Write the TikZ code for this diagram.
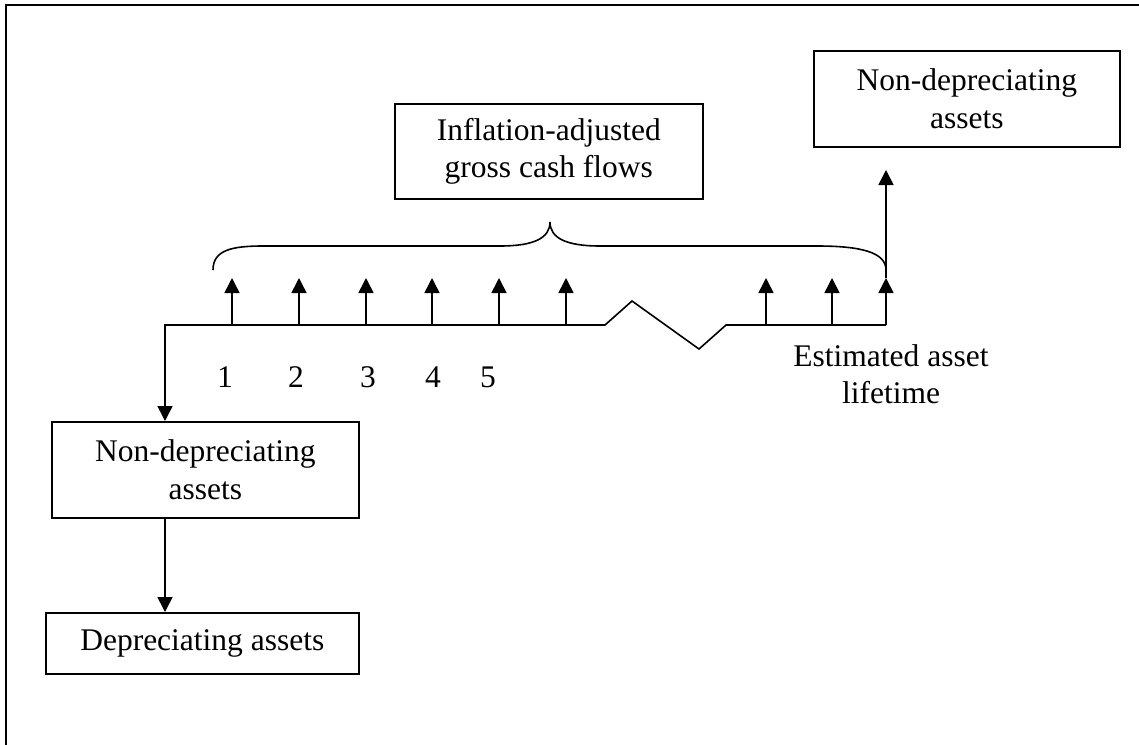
\documentclass[tikz,border=0pt]{standalone}
\usepackage{fontspec}
\setmainfont{Liberation Serif}
\usetikzlibrary{arrows.meta}
\begin{document}
\begin{tikzpicture}[x=1pt,y=-1pt,
    txt/.style={font=\fontsize{31.5}{37.5}\selectfont, inner sep=0pt},
    box/.style={txt, draw, line width=1.6pt, align=center, anchor=north west},
    line/.style={line width=1.6pt},
    arr/.style={line, -{Triangle[length=15pt,width=15pt]}},
  ]
  \useasboundingbox (0,0) rectangle (1139,744);

  % page frame (left and top edges)
  \draw[line width=2.4pt] (6,750) -- (6,5) -- (1145,5);

  % boxes
  \node[box, minimum width=308pt, minimum height=95pt] (infl) at (394,103)
    {Inflation-adjusted\\gross cash flows};
  \node[box, minimum width=306pt, minimum height=96pt] (endval) at (813,50)
    {Non-depreciating\\assets};
  \node[box, minimum width=307pt, minimum height=96pt] (nondep) at (51,421)
    {Non-depreciating\\assets};
  \node[box, minimum width=313pt, minimum height=61pt] (dep) at (45,612)
    {Depreciating assets};

  % time line with break
  \coordinate (start) at (165,325);
  \coordinate (brkA) at (605,325);
  \coordinate (brkB) at (632,301);
  \coordinate (brkC) at (699,349);
  \coordinate (brkD) at (726,325);
  \coordinate (end) at (886,325);
  \draw[arr] (end) -- (brkD) -- (brkC) -- (brkB) -- (brkA) -- (start)
    -- (start |- nondep.north);
  \draw[arr] (nondep.south -| start) -- (dep.north -| start);

  % yearly cash flows
  \foreach \i/\x in {1/232,2/299,3/366,4/432,5/499,6/566,7/766,8/832,9/886}{
    \coordinate (cf\i) at (\x,325);
    \draw[arr] (cf\i) -- ++(0,-47);
  }
  \coordinate (endtip) at (886,170);
  \draw[arr] (886,278) -- (endtip);

  % brace over the cash flows
  \draw[line] (213,270) .. controls (213,250) and (232,246) .. (263,246)
    -- (500,246) .. controls (534,246) and (550,238) .. (550,222)
    .. controls (550,238) and (566,246) .. (600,246)
    -- (817,246) .. controls (860,246) and (886,252) .. (886,270);

  % year labels
  \foreach \i/\x in {1/225,2/296,3/368,4/433,5/488}{
    \node[txt, anchor=base] (y\i) at (\x,387) {\i};
  }
  \node[txt, align=center] (life) at (891,374) {Estimated asset\\lifetime};
\end{tikzpicture}
\end{document}
